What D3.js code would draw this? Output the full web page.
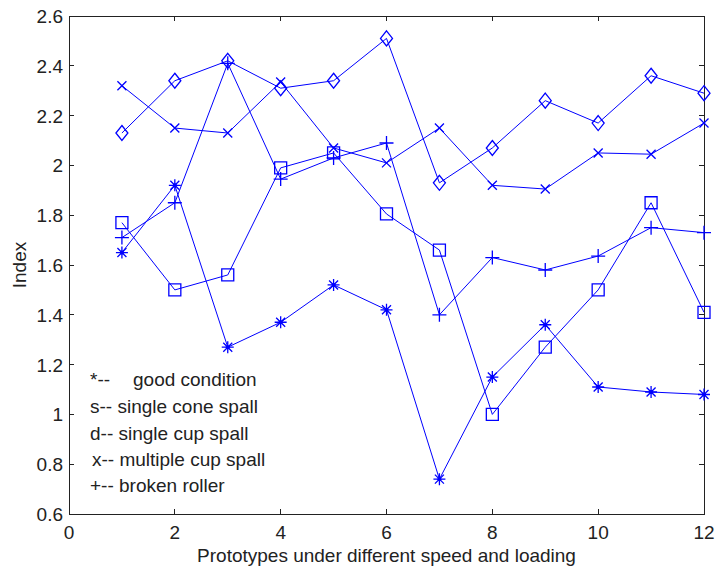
<!DOCTYPE html>
<html>
<head>
<meta charset="utf-8">
<script src="https://cdn.jsdelivr.net/npm/d3@7"></script>
<style>
  html, body { margin: 0; padding: 0; background: #fff; }
  svg { display: block; }
  text { font-family: Arial, "Liberation Sans", sans-serif; fill: #222; }
</style>
</head>
<body>
<svg id="chart" width="715" height="571"></svg>
<script>
// Prototype numbers (x axis)
const prototypes = [1, 2, 3, 4, 5, 6, 7, 8, 9, 10, 11, 12];

// Index values for each bearing condition
const goodCondition     = [1.65, 1.92, 1.27, 1.37, 1.52, 1.42, 0.74, 1.15, 1.36, 1.11, 1.09, 1.08];
const singleConeSpall   = [1.77, 1.50, 1.56, 1.99, 2.05, 1.805, 1.66, 1.00, 1.27, 1.50, 1.85, 1.41];
const singleCupSpall    = [2.13, 2.34, 2.42, 2.31, 2.34, 2.51, 1.93, 2.07, 2.26, 2.17, 2.36, 2.29];
const multipleCupSpall  = [2.32, 2.15, 2.13, 2.335, 2.07, 2.01, 2.15, 1.92, 1.905, 2.05, 2.045, 2.17];
const brokenRoller      = [1.71, 1.85, 2.41, 1.945, 2.03, 2.09, 1.40, 1.63, 1.58, 1.636, 1.75, 1.73];

// Axis ticks
const xTicks = [0, 2, 4, 6, 8, 10, 12];
const yTicks = [0.6, 0.8, 1, 1.2, 1.4, 1.6, 1.8, 2, 2.2, 2.4, 2.6];

// Legend lines (written as plain text labels)
const legendKeys   = ["*--", "s--", "d--", "x--", "+--"];
const legendLabels = ["good condition", "single cone spall", "single cup spall", "multiple cup spall", "broken roller"];

const series = [
  { values: goodCondition,    marker: "star" },
  { values: singleConeSpall,  marker: "square" },
  { values: singleCupSpall,   marker: "diamond" },
  { values: multipleCupSpall, marker: "cross" },
  { values: brokenRoller,     marker: "plus" }
];

const svg = d3.select("#chart");
const plotL = 69, plotR = 704, plotT = 16, plotB = 514;
const x = d3.scaleLinear().domain([0, 12]).range([plotL, plotR]);
const y = d3.scaleLinear().domain([0.6, 2.6]).range([plotB, plotT]);

const axisColor = "#222";
const blue = "#0000ff";
const tickLen = 5;

// Plot box
svg.append("rect")
  .attr("x", plotL).attr("y", plotT)
  .attr("width", plotR - plotL).attr("height", plotB - plotT)
  .attr("fill", "none").attr("stroke", axisColor).attr("stroke-width", 1)
  .attr("shape-rendering", "crispEdges");

// Inward ticks on all four sides
const tickG = svg.append("g").attr("stroke", axisColor).attr("stroke-width", 1)
  .attr("shape-rendering", "crispEdges");
xTicks.forEach(t => {
  tickG.append("line").attr("x1", x(t)).attr("x2", x(t)).attr("y1", plotB).attr("y2", plotB - tickLen);
  tickG.append("line").attr("x1", x(t)).attr("x2", x(t)).attr("y1", plotT).attr("y2", plotT + tickLen);
});
yTicks.forEach(t => {
  tickG.append("line").attr("x1", plotL).attr("x2", plotL + tickLen).attr("y1", y(t)).attr("y2", y(t));
  tickG.append("line").attr("x1", plotR).attr("x2", plotR - tickLen).attr("y1", y(t)).attr("y2", y(t));
});

// Tick labels
svg.append("g").selectAll("text").data(xTicks).join("text")
  .attr("x", d => x(d)).attr("y", 539)
  .attr("text-anchor", "middle").attr("font-size", 19)
  .text(d => d);
svg.append("g").selectAll("text").data(yTicks).join("text")
  .attr("x", 63).attr("y", d => y(d) + 7)
  .attr("text-anchor", "end").attr("font-size", 19)
  .text(d => d);

// Axis titles
svg.append("text")
  .attr("x", (plotL + plotR) / 2).attr("y", 562)
  .attr("text-anchor", "middle").attr("font-size", 19)
  .text("Prototypes under different speed and loading");
svg.append("text")
  .attr("transform", `translate(26,${(plotT + plotB) / 2}) rotate(-90)`)
  .attr("text-anchor", "middle").attr("font-size", 19)
  .text("Index");

// Marker shapes, drawn as paths around (0,0)
function markerPath(type) {
  switch (type) {
    case "square":  return "M-6,-6H6V6H-6Z";
    case "diamond": return "M0,-7.5L6,0L0,7.5L-6,0Z";
    case "cross":   return "M-4.5,-4.5L4.5,4.5M-4.5,4.5L4.5,-4.5";
    case "plus":    return "M-7,0H7M0,-7V7";
    case "star":    return "M-6,0H6M0,-6V6M-4.5,-4.5L4.5,4.5M-4.5,4.5L4.5,-4.5";
  }
}

const line = d3.line().x((d, i) => x(prototypes[i])).y(d => y(d));

series.forEach(s => {
  const g = svg.append("g");
  g.append("path")
    .attr("d", line(s.values))
    .attr("fill", "none").attr("stroke", blue).attr("stroke-width", 1);
  g.selectAll("path.m").data(s.values).join("path")
    .attr("class", "m")
    .attr("transform", (d, i) => `translate(${x(prototypes[i])},${y(d)})`)
    .attr("d", markerPath(s.marker))
    .attr("fill", "none").attr("stroke", blue).attr("stroke-width", 1.3);
  if (s.marker === "star") {
    g.selectAll("circle").data(s.values).join("circle")
      .attr("cx", (d, i) => x(prototypes[i])).attr("cy", d => y(d))
      .attr("r", 2).attr("fill", blue);
  }
});

// Text legend in the lower-left corner
const legend = svg.append("g").attr("font-size", 19);
const rowY = [386, 413, 440, 466, 492];
legendKeys.forEach((k, i) => {
  if (i === 0) {
    legend.append("text").attr("x", 90).attr("y", rowY[i]).text(k);
    legend.append("text").attr("x", 133).attr("y", rowY[i]).text(legendLabels[i]);
  } else {
    legend.append("text").attr("x", i === 3 ? 92 : 90).attr("y", rowY[i])
      .text(k + " " + legendLabels[i]);
  }
});
</script>
</body>
</html>
